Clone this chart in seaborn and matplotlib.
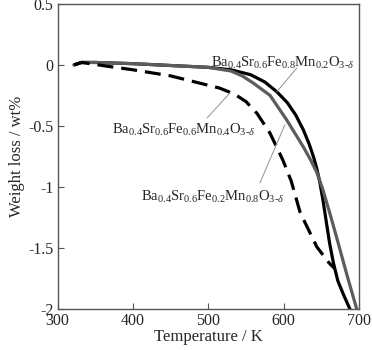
import matplotlib
matplotlib.use("Agg")
import matplotlib.pyplot as plt
import seaborn as sns
import pandas as pd

# TG curves (Temperature / K, weight loss / wt%)
t_fe08 = [322, 332, 350, 400, 450, 500, 530, 556, 575, 591, 605, 616, 626, 634, 640, 644, 648, 652, 656, 661, 666, 672, 680, 688]
w_fe08 = [0.0, 0.02, 0.02, 0.01, -0.005, -0.02, -0.04, -0.08, -0.14, -0.22, -0.31, -0.41, -0.53, -0.65, -0.76, -0.85, -0.96, -1.1, -1.26, -1.46, -1.62, -1.77, -1.89, -2.0]

t_fe06 = [322, 332, 350, 400, 450, 500, 530, 545, 560, 582, 604, 616, 626, 636, 644, 652, 662, 672, 684, 697]
w_fe06 = [0.0, 0.02, 0.02, 0.01, -0.005, -0.02, -0.05, -0.09, -0.15, -0.25, -0.45, -0.57, -0.67, -0.78, -0.88, -1.02, -1.23, -1.45, -1.72, -2.0]

t_fe02 = [322, 332, 365, 400, 450, 489, 515, 535, 550, 565, 582, 599, 610, 622, 644, 660, 668]
w_fe02 = [0.0, 0.02, -0.01, -0.04, -0.09, -0.15, -0.19, -0.24, -0.3, -0.4, -0.56, -0.78, -0.95, -1.21, -1.49, -1.62, -1.67]

labels = [
    r"Ba$_{0.4}$Sr$_{0.6}$Fe$_{0.8}$Mn$_{0.2}$O$_{3\text{-}\delta}$",
    r"Ba$_{0.4}$Sr$_{0.6}$Fe$_{0.6}$Mn$_{0.4}$O$_{3\text{-}\delta}$",
    r"Ba$_{0.4}$Sr$_{0.6}$Fe$_{0.2}$Mn$_{0.8}$O$_{3\text{-}\delta}$",
]
# label centre and leader line (start -> end) in data coords
label_xy = [(599, 0.016), (467, -0.533), (506, -1.08)]
leader_from = [(617.6, -0.025), (498.5, -0.434), (568.6, -0.967)]
leader_to = [(591, -0.22), (528.8, -0.23), (601.7, -0.49)]

xticks = [300, 400, 500, 600, 700]
yticks = [0.5, 0, -0.5, -1, -1.5, -2]
yticklabels = ["0.5", "0", "-0.5", "-1", "-1.5", "-2"]

df = pd.concat([
    pd.DataFrame({"T": t_fe08, "w": w_fe08, "s": "fe08"}),
    pd.DataFrame({"T": t_fe06, "w": w_fe06, "s": "fe06"}),
    pd.DataFrame({"T": t_fe02, "w": w_fe02, "s": "fe02"}),
])

sns.set_style("ticks")
plt.rcParams["font.family"] = ["Liberation Serif", "DejaVu Serif"]
plt.rcParams["mathtext.fontset"] = "custom"
plt.rcParams["mathtext.rm"] = "Liberation Serif"
plt.rcParams["mathtext.it"] = "Liberation Serif:italic"
plt.rcParams["axes.unicode_minus"] = False

fig = plt.figure(figsize=(3.72, 3.5), dpi=100)
ax = fig.add_axes([0.1546, 0.117, 0.8104, 0.872])

sns.lineplot(data=df, x="T", y="w", hue="s", style="s", sort=False,
             palette={"fe08": "#000000", "fe06": "#5c5c5c", "fe02": "#000000"},
             dashes={"fe08": "", "fe06": "", "fe02": (5, 2.5)},
             linewidth=2.3, legend=False, ax=ax)

for lab, (tx, ty), (x0, y0), (x1, y1) in zip(labels, label_xy, leader_from, leader_to):
    ax.text(tx, ty, lab, ha="center", va="center", fontsize=10.5)
    ax.plot([x0, x1], [y0, y1], color="#909090", lw=0.7)

ax.set_xlim(300, 700)
ax.set_ylim(-2, 0.5)
ax.set_xticks(xticks)
ax.set_yticks(yticks)
ax.set_yticklabels(yticklabels)
ax.tick_params(direction="in", length=4, width=0.8, color="#555555", labelsize=11.5, pad=3)
for sp in ax.spines.values():
    sp.set_color("#555555")
    sp.set_linewidth(1.0)
ax.set_xlabel("Temperature / K", fontsize=12, labelpad=0)
ax.set_ylabel("Weight loss / wt%", fontsize=12, labelpad=2)

fig.savefig("out.png", dpi=100)
